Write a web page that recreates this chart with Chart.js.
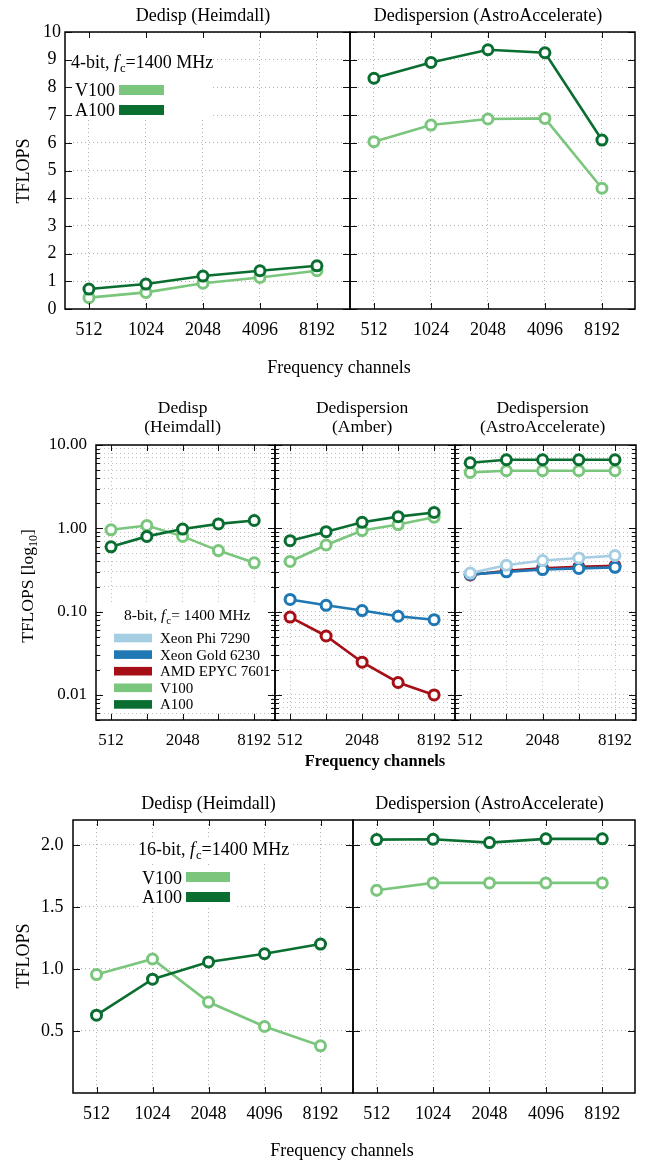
<!DOCTYPE html>
<html>
<head>
<meta charset="utf-8">
<script src="https://cdn.jsdelivr.net/npm/chart.js@4.4.1/dist/chart.umd.min.js"></script>
<style>
  body { margin: 0; background: #fff; }
  #wrap { position: relative; width: 646px; height: 1163px; }
  #wrap canvas { position: absolute; left: 0; top: 0; }
</style>
</head>
<body>
<div id="wrap"></div>
<script>
var channels = ['512', '1024', '2048', '4096', '8192'];

// 4-bit
var v100_4bit_heimdall = [0.41, 0.60, 0.93, 1.14, 1.38];
var a100_4bit_heimdall = [0.72, 0.90, 1.19, 1.38, 1.56];
var v100_4bit_astro = [6.04, 6.64, 6.86, 6.88, 4.36];
var a100_4bit_astro = [8.33, 8.90, 9.36, 9.25, 6.10];

// 8-bit
var v100_8bit_heimdall = [0.96, 1.08, 0.80, 0.54, 0.385];
var a100_8bit_heimdall = [0.60, 0.80, 0.98, 1.13, 1.24];
var v100_8bit_amber = [0.40, 0.63, 0.94, 1.11, 1.36];
var a100_8bit_amber = [0.71, 0.91, 1.18, 1.38, 1.55];
var gold_8bit_amber = [0.140, 0.119, 0.103, 0.088, 0.080];
var epyc_8bit_amber = [0.086, 0.051, 0.0247, 0.0141, 0.0100];
var v100_8bit_astro = [4.69, 4.91, 4.91, 4.91, 4.91];
var a100_8bit_astro = [6.12, 6.65, 6.65, 6.65, 6.65];
var phi_8bit_astro = [0.29, 0.36, 0.41, 0.44, 0.47];
var gold_8bit_astro = [0.28, 0.30, 0.32, 0.33, 0.34];
var epyc_8bit_astro = [0.275, 0.31, 0.33, 0.345, 0.355];

// 16-bit
var v100_16bit_heimdall = [0.954, 1.08, 0.733, 0.536, 0.38];
var a100_16bit_heimdall = [0.627, 0.917, 1.056, 1.122, 1.20];
var v100_16bit_astro = [1.634, 1.693, 1.693, 1.693, 1.693];
var a100_16bit_astro = [2.042, 2.045, 2.018, 2.048, 2.048];

var linearTicks1 = [0, 1, 2, 3, 4, 5, 6, 7, 8, 9, 10];
var linearTicks3 = [0.5, 1.0, 1.5, 2.0];

var W = 646, H = 1163;
var FONT = "'Liberation Serif', 'DejaVu Serif', serif";
var cV100 = '#7bc67d', cA100 = '#0b6e31', cPhi = '#a6cee3', cGold = '#1f78b4', cEpyc = '#a50f15';

Chart.defaults.font.family = FONT;
Chart.defaults.color = '#000';

function series(label, color, vals) {
    return {
        label: label,
        data: vals.map(function (v, i) { return {x: i, y: v}; }),
        borderColor: color,
        backgroundColor: '#fff',
        pointBackgroundColor: '#fff',
        pointBorderColor: color,
        borderWidth: 2.6,
        pointRadius: 5,
        pointBorderWidth: 3
    };
}

function fnt(size, style, weight) {
    return (style || '') + ' ' + (weight || '') + ' ' + size + 'px ' + FONT;
}

// draws a run of text pieces, y is the vertical centre of the text
function rich(ctx, segs, x, y, size, align, rot) {
    ctx.save();
    ctx.fillStyle = '#000';
    ctx.textAlign = 'left';
    ctx.textBaseline = 'alphabetic';
    var total = 0;
    segs.forEach(function (s) {
        ctx.font = s.font;
        s.w = ctx.measureText(s.t).width + (s.gap || 0);
        total += s.w;
    });
    ctx.translate(x, y);
    if (rot) ctx.rotate(rot);
    var cx = align === 'center' ? -total / 2 : (align === 'right' ? -total : 0);
    var base = size * 0.33;
    segs.forEach(function (s) {
        ctx.font = s.font;
        ctx.fillText(s.t, cx, base + (s.dy || 0));
        cx += s.w;
    });
    ctx.restore();
}

function plain(ctx, t, x, y, size, align, rot, weight) {
    rich(ctx, [{t: t, font: fnt(size, '', weight)}], x, y, size, align, rot);
}

function fcLabel(ctx, pre, post, x, y, size) {
    rich(ctx, [
        {t: pre, font: fnt(size)},
        {t: 'f', font: fnt(size, 'italic'), gap: 1},
        {t: 'c', font: fnt(size * 0.7), dy: size * 0.22},
        {t: post, font: fnt(size)}
    ], x, y, size, 'left');
}

function swatch(ctx, x0, y0, x1, y1, color) {
    ctx.save();
    ctx.fillStyle = color;
    ctx.fillRect(x0, y0, x1 - x0, y1 - y0);
    ctx.restore();
}

function whiteBox(ctx, x0, y0, x1, y1) {
    swatch(ctx, x0, y0, x1, y1, '#fff');
}

function isMajor(scale, v) {
    if (scale.type !== 'logarithmic') return true;
    var l = Math.log10(v);
    return Math.abs(l - Math.round(l)) < 1e-9;
}

// box frame and inward ticks on all four sides
var framePlugin = {
    id: 'frame',
    afterDraw: function (chart) {
        var ctx = chart.ctx, a = chart.chartArea, xs = chart.scales.x, ys = chart.scales.y;
        ctx.save();
        ctx.strokeStyle = '#111';
        ctx.lineWidth = 1;
        ctx.beginPath();
        xs.ticks.forEach(function (t) {
            var px = Math.round(xs.getPixelForValue(t.value)) + 0.5;
            ctx.moveTo(px, a.bottom); ctx.lineTo(px, a.bottom - 6);
            ctx.moveTo(px, a.top); ctx.lineTo(px, a.top + 6);
        });
        ys.ticks.forEach(function (t) {
            var py = Math.round(ys.getPixelForValue(t.value)) + 0.5;
            var len = isMajor(ys, t.value) ? 7 : 4;
            ctx.moveTo(a.left, py); ctx.lineTo(a.left + len, py);
            ctx.moveTo(a.right, py); ctx.lineTo(a.right - len, py);
        });
        ctx.stroke();
        ctx.strokeStyle = '#000';
        ctx.lineWidth = 1.5;
        ctx.strokeRect(a.left, a.top, a.right - a.left, a.bottom - a.top);
        ctx.restore();
    }
};

var nPanel = 0;
function panel(box, datasets, yScale, deco) {
    var canvas = document.createElement('canvas');
    canvas.width = W;
    canvas.height = H;
    document.getElementById('wrap').appendChild(canvas);
    var yw = box.yw || 0, xh = 40;
    yScale.afterFit = function (s) { s.width = yw; };
    yScale.grid = {color: box.grid || '#b0b0b0', drawTicks: false};
    yScale.border = {display: false, dash: [1, 3]};
    nPanel++;
    return new Chart(canvas, {
        type: 'line',
        data: {datasets: datasets},
        options: {
            responsive: false,
            animation: false,
            events: [],
            layout: {padding: {left: box.x0 - yw, right: W - box.x1, top: box.y0, bottom: H - box.y1 - xh}},
            plugins: {legend: {display: false}, tooltip: {enabled: false}},
            scales: {
                x: {
                    type: 'linear',
                    min: -0.42,
                    max: 4.58,
                    afterBuildTicks: function (s) {
                        s.ticks = channels.map(function (c, i) { return {value: i}; });
                    },
                    afterFit: function (s) { s.height = xh; },
                    ticks: {
                        autoSkip: false,
                        maxRotation: 0,
                        padding: 10,
                        font: {size: box.fs},
                        callback: function (v) {
                            if (box.every2 && v % 2) return '';
                            return channels[v];
                        }
                    },
                    grid: {color: box.grid || '#b0b0b0', drawTicks: false},
                    border: {display: false, dash: [1, 3]}
                },
                y: yScale
            }
        },
        plugins: [framePlugin, {
            id: 'deco' + nPanel,
            beforeDatasetsDraw: function (chart) { if (deco.under) deco.under(chart.ctx, chart); },
            afterDraw: function (chart) { if (deco.over) deco.over(chart.ctx, chart); }
        }]
    });
}

function linearY(max, ticks, labels, fs, pad, align) {
    return {
        type: 'linear',
        min: 0,
        max: max,
        afterBuildTicks: function (s) { s.ticks = ticks.map(function (v) { return {value: v}; }); },
        ticks: {
            display: !!labels,
            padding: pad,
            crossAlign: align,
            font: {size: fs},
            callback: function (v) { return labels ? labels(v) : ''; }
        }
    };
}

function logY(showLabels) {
    return {
        type: 'logarithmic',
        min: 0.005,
        max: 10,
        afterBuildTicks: function (s) {
            var t = [];
            for (var d = -3; d <= 1; d++) {
                for (var m = 1; m <= 9; m++) {
                    var v = +(m * Math.pow(10, d)).toPrecision(3);
                    if (v >= 0.005 && v <= 10) t.push({value: v});
                }
            }
            s.ticks = t;
        },
        ticks: {
            display: showLabels,
            padding: 9,
            crossAlign: 'near',
            autoSkip: false,
            font: {size: 17},
            callback: function (v) {
                var l = Math.log10(v);
                return Math.abs(l - Math.round(l)) < 1e-9 ? v.toFixed(2) : '';
            }
        }
    };
}

function midX(chart) { return chart.scales.x.getPixelForValue(2); }

// ---------- row 1: 4-bit ----------
panel({x0: 65, x1: 350, y0: 32, y1: 309, yw: 30, fs: 18},
    [series('A100', cA100, a100_4bit_heimdall), series('V100', cV100, v100_4bit_heimdall)],
    linearY(10, linearTicks1, function (v) { return String(v); }, 18, 4, 'center'),
    {
        under: function (ctx) { whiteBox(ctx, 66, 33, 210, 117); },
        over: function (ctx, chart) {
            plain(ctx, 'Dedisp (Heimdall)', midX(chart), 15, 18, 'center');
            plain(ctx, 'TFLOPS', 23, 171, 18, 'center', -Math.PI / 2);
            plain(ctx, 'Frequency channels', 339, 367, 18, 'center');
            fcLabel(ctx, '4-bit, ', '=1400 MHz', 71, 62, 18);
            plain(ctx, 'V100', 115, 90, 18, 'right');
            swatch(ctx, 119, 85, 164, 95, cV100);
            plain(ctx, 'A100', 115, 110, 18, 'right');
            swatch(ctx, 119, 105, 164, 115, cA100);
        }
    });

panel({x0: 350, x1: 635, y0: 32, y1: 309, fs: 18},
    [series('A100', cA100, a100_4bit_astro), series('V100', cV100, v100_4bit_astro)],
    linearY(10, linearTicks1, null, 18, 4, 'center'),
    {
        over: function (ctx, chart) {
            plain(ctx, 'Dedispersion (AstroAccelerate)', midX(chart), 15, 18, 'center');
        }
    });

// ---------- row 2: 8-bit (log) ----------
var legend8 = [['Xeon Phi 7290', cPhi], ['Xeon Gold 6230', cGold], ['AMD EPYC 7601', cEpyc], ['V100', cV100], ['A100', cA100]];

panel({x0: 96, x1: 275, y0: 445, y1: 720, yw: 60, fs: 17, every2: true, grid: '#c0c0c0'},
    [series('A100', cA100, a100_8bit_heimdall), series('V100', cV100, v100_8bit_heimdall)],
    logY(true),
    {
        under: function (ctx) { whiteBox(ctx, 104, 603, 272, 713); },
        over: function (ctx, chart) {
            plain(ctx, 'Dedisp', midX(chart), 407, 17.5, 'center');
            plain(ctx, '(Heimdall)', midX(chart), 426, 17.5, 'center');
            rich(ctx, [
                {t: 'TFLOPS [log', font: fnt(17.5)},
                {t: '10', font: fnt(12), dy: 4},
                {t: ']', font: fnt(17.5)}
            ], 27, 586, 17.5, 'center', -Math.PI / 2);
            plain(ctx, 'Frequency channels', 375, 761, 16.5, 'center', 0, 'bold');
            fcLabel(ctx, '8-bit, ', '= 1400 MHz', 124, 615, 15.5);
            legend8.forEach(function (e, i) {
                var yc = 638 + i * 16.6;
                swatch(ctx, 114, yc - 4.3, 152, yc + 4.3, e[1]);
                plain(ctx, e[0], 160, yc, 15, 'left');
            });
        }
    });

panel({x0: 275, x1: 455, y0: 445, y1: 720, fs: 17, every2: true, grid: '#c0c0c0'},
    [series('A100', cA100, a100_8bit_amber), series('V100', cV100, v100_8bit_amber),
     series('Xeon Gold 6230', cGold, gold_8bit_amber), series('AMD EPYC 7601', cEpyc, epyc_8bit_amber)],
    logY(false),
    {
        over: function (ctx, chart) {
            plain(ctx, 'Dedispersion', midX(chart), 407, 17.5, 'center');
            plain(ctx, '(Amber)', midX(chart), 426, 17.5, 'center');
        }
    });

panel({x0: 455, x1: 636, y0: 445, y1: 720, fs: 17, every2: true, grid: '#c0c0c0'},
    [series('A100', cA100, a100_8bit_astro), series('V100', cV100, v100_8bit_astro),
     series('Xeon Phi 7290', cPhi, phi_8bit_astro), series('Xeon Gold 6230', cGold, gold_8bit_astro),
     series('AMD EPYC 7601', cEpyc, epyc_8bit_astro)],
    logY(false),
    {
        over: function (ctx, chart) {
            plain(ctx, 'Dedispersion', midX(chart), 407, 17.5, 'center');
            plain(ctx, '(AstroAccelerate)', midX(chart), 426, 17.5, 'center');
        }
    });

// ---------- row 3: 16-bit ----------
panel({x0: 73, x1: 353, y0: 820, y1: 1093, yw: 50, fs: 18},
    [series('A100', cA100, a100_16bit_heimdall), series('V100', cV100, v100_16bit_heimdall)],
    linearY(2.2, linearTicks3, function (v) { return v.toFixed(1); }, 18, 9.5, 'near'),
    {
        under: function (ctx) {
            whiteBox(ctx, 134, 837, 292, 862);
            whiteBox(ctx, 140, 867, 234, 907);
        },
        over: function (ctx, chart) {
            plain(ctx, 'Dedisp (Heimdall)', midX(chart), 803, 18, 'center');
            plain(ctx, 'TFLOPS', 23, 956, 18, 'center', -Math.PI / 2);
            plain(ctx, 'Frequency channels', 342, 1150, 18, 'center');
            fcLabel(ctx, '16-bit, ', '=1400 MHz', 138, 849, 18);
            plain(ctx, 'V100', 182, 878, 18, 'right');
            swatch(ctx, 186, 872, 230, 882, cV100);
            plain(ctx, 'A100', 182, 897, 18, 'right');
            swatch(ctx, 186, 892, 230, 902, cA100);
        }
    });

panel({x0: 353, x1: 635, y0: 820, y1: 1093, fs: 18},
    [series('A100', cA100, a100_16bit_astro), series('V100', cV100, v100_16bit_astro)],
    linearY(2.2, linearTicks3, null, 18, 9.5, 'near'),
    {
        over: function (ctx, chart) {
            plain(ctx, 'Dedispersion (AstroAccelerate)', midX(chart), 803, 18, 'center');
        }
    });
</script>
</body>
</html>
